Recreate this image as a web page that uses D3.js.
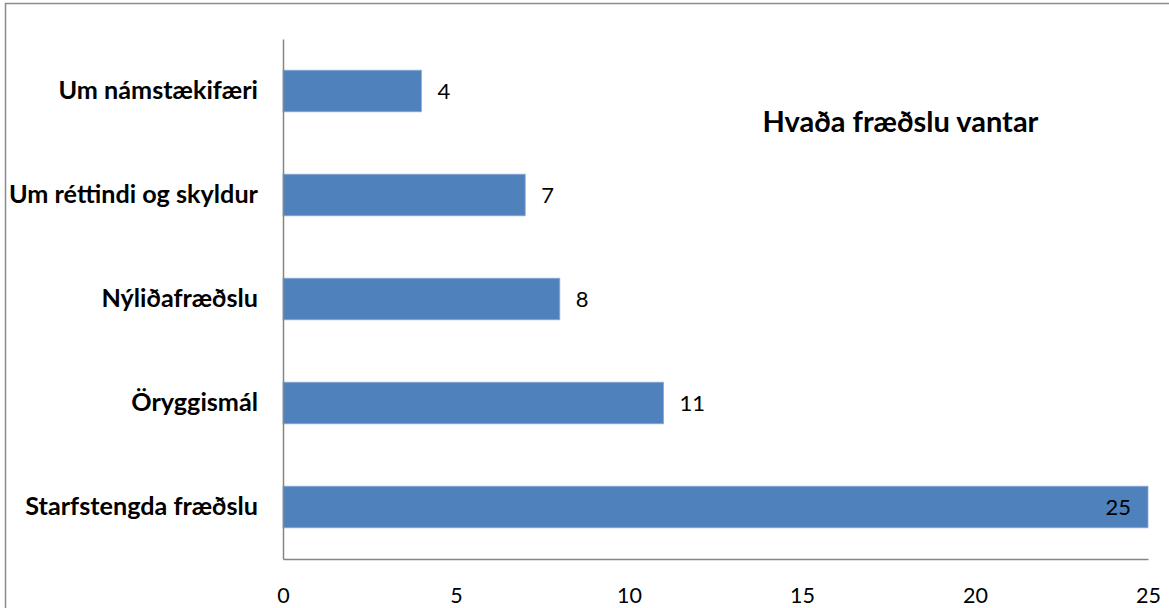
<!DOCTYPE html>
<html>
<head>
<meta charset="utf-8">
<script src="https://cdn.jsdelivr.net/npm/d3@7"></script>
<style>
  html, body { margin: 0; padding: 0; background: #fff; }
  svg { display: block; }
  text { font-family: Lato, "Open Sans", sans-serif; fill: #000; }
</style>
</head>
<body>
<svg id="chart" width="1169" height="608"></svg>
<script>
const categories = ["Um námstækifæri", "Um réttindi og skyldur", "Nýliðafræðslu", "Öryggismál", "Starfstengda fræðslu"];
const values = [4, 7, 8, 11, 25];
const xTicks = [0, 5, 10, 15, 20, 25];
const title = "Hvaða fræðslu vantar";

const svg = d3.select("#chart");
const W = 1169, H = 608;
const m = { left: 283, right: 1148, top: 39, bottom: 559 };

// outer frame (extends beyond right/bottom edges)
svg.append("rect")
  .attr("x", 5.5).attr("y", 3.5)
  .attr("width", W + 20).attr("height", H + 20)
  .attr("fill", "none").attr("stroke", "#8c8c8c").attr("stroke-width", 1.5);

const x = d3.scaleLinear().domain([0, 25]).range([m.left, m.right]);
const y = d3.scaleBand().domain(categories).range([m.top, m.bottom]).paddingInner(0.6).paddingOuter(0.3);

// bars
svg.append("g").selectAll("rect").data(categories).join("rect")
  .attr("x", x(0))
  .attr("y", d => y(d))
  .attr("width", (d, i) => x(values[i]) - x(0))
  .attr("height", y.bandwidth())
  .attr("fill", "#4f81bd")
  .attr("stroke", "#8aaad6").attr("stroke-width", 0.8);

// x axis
const xAxis = svg.append("g").attr("transform", `translate(0,${m.bottom})`)
  .call(d3.axisBottom(x).tickValues(xTicks).tickSize(0).tickPadding(29).tickFormat(d3.format("d")));
xAxis.select(".domain").attr("stroke", "#868686").attr("stroke-width", 1.5);
xAxis.selectAll("text").attr("font-size", 21.5).attr("font-family", "Lato, sans-serif").attr("fill", "#000");

// y axis
const yAxis = svg.append("g").attr("transform", `translate(${m.left},0)`)
  .call(d3.axisLeft(y).tickSize(0).tickPadding(25));
yAxis.select(".domain").attr("stroke", "#868686").attr("stroke-width", 1.5);
yAxis.selectAll("text").attr("font-size", 25.2).attr("font-weight", "bold").attr("font-family", "Lato, sans-serif").attr("fill", "#000");

// value labels
svg.append("g").selectAll("text").data(categories).join("text")
  .attr("x", (d, i) => values[i] >= 20 ? x(values[i]) - 17 : x(values[i]) + 16)
  .attr("y", d => y(d) + y.bandwidth() / 2)
  .attr("dy", "0.35em")
  .attr("text-anchor", (d, i) => values[i] >= 20 ? "end" : "start")
  .attr("font-size", 22)
  .text((d, i) => values[i]);

// title
svg.append("text")
  .attr("x", 900.5).attr("y", 132)
  .attr("text-anchor", "middle")
  .attr("font-size", 29).attr("font-weight", "bold")
  .text(title);
</script>
</body>
</html>
